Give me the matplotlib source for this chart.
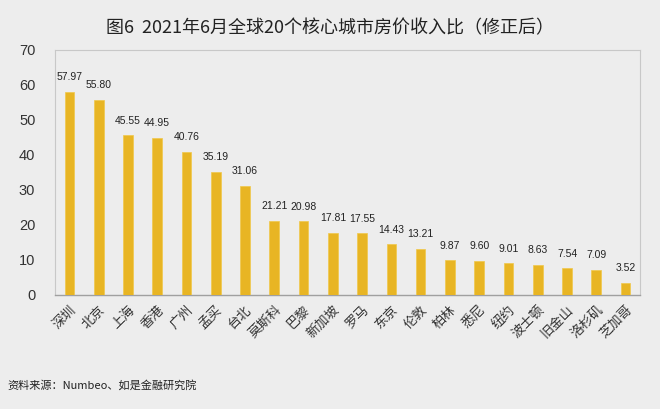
import matplotlib
matplotlib.use("Agg")
import matplotlib.pyplot as plt

plt.rcParams['font.family'] = ['Noto Sans CJK SC', 'DejaVu Sans']

cities = ["深圳", "北京", "上海", "香港", "广州", "孟买", "台北", "莫斯科", "巴黎", "新加坡",
          "罗马", "东京", "伦敦", "柏林", "悉尼", "纽约", "波士顿", "旧金山", "洛杉矶", "芝加哥"]
values = [57.97, 55.80, 45.55, 44.95, 40.76, 35.19, 31.06, 21.21, 20.98, 17.81,
          17.55, 14.43, 13.21, 9.87, 9.60, 9.01, 8.63, 7.54, 7.09, 3.52]
yticks = [0, 10, 20, 30, 40, 50, 60, 70]
title = "图6  2021年6月全球20个核心城市房价收入比（修正后）"
source = "资料来源：Numbeo、如是金融研究院"

bg = "#ededed"
fig = plt.figure(figsize=(6.6, 4.09), dpi=100, facecolor=bg)
ax = fig.add_axes([0.083, 0.279, 0.887, 0.599], facecolor=bg)

x = list(range(len(cities)))
ax.bar(x, values, width=0.33, color="#e8b524", edgecolor="#f0c84a", linewidth=0.5, zorder=3)
for xi, v in zip(x, values):
    ax.text(xi, v + 2.8, f"{v:.2f}", ha="center", va="bottom", fontsize=7.5,
            color="#222222", family=["Liberation Sans", "DejaVu Sans"])

ax.set_xlim(-0.5, len(cities) - 0.5)
ax.set_ylim(0, 70)
ax.set_yticks(yticks)
ax.set_yticklabels([str(t) for t in yticks], fontsize=10.5, color="#333333",
                   family=["Liberation Sans", "DejaVu Sans"])
ax.tick_params(axis="y", length=0, pad=14)
ax.set_xticks(x)
ax.set_xticklabels(cities, rotation=45, ha="right", va="top", fontsize=9.5,
                   color="#333333", rotation_mode="anchor")
ax.tick_params(axis="x", length=0, pad=6)
for s in ["top", "right", "left"]:
    ax.spines[s].set_color("#c8c8c8")
    ax.spines[s].set_linewidth(0.8)
ax.spines["bottom"].set_color("#a0a0a0")
ax.spines["bottom"].set_linewidth(1.0)

fig.text(0.5, 0.932, title, ha="center", va="center", fontsize=13, color="#222222")
fig.text(0.012, 0.059, source, ha="left", va="center", fontsize=8, color="#222222")

fig.savefig("out.png", dpi=100, facecolor=bg)
